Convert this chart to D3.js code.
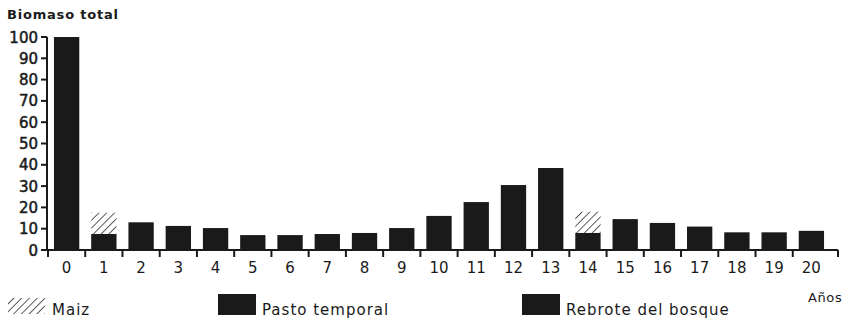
<!DOCTYPE html>
<html>
<head>
<meta charset="utf-8">
<script src="https://cdn.jsdelivr.net/npm/d3@7"></script>
<style>
  body { margin: 0; background: #fff; }
  text { font-family: "DejaVu Sans", sans-serif; fill: #1a1a1a; }
</style>
</head>
<body>
<script>
// years and values
const years = d3.range(0, 21);
const biomasa = [100, 7.5, 13, 11.3, 10.3, 7, 7, 7.5, 8, 10.3, 16, 22.5, 30.5, 38.5, 8, 14.5, 12.7, 11, 8.3, 8.3, 9];
const maiz = [0, 10, 0, 0, 0, 0, 0, 0, 0, 0, 0, 0, 0, 0, 10, 0, 0, 0, 0, 0, 0];
const yTicks = [0, 10, 20, 30, 40, 50, 60, 70, 80, 90, 100];
const legendItems = ["Maiz", "Pasto temporal", "Rebrote del bosque"];

function main(){
    const width = 849;
    const height = 320;
    const ink = "#1a1a1a";

    const svg = d3.select("body").append("svg")
        .attr("width", width)
        .attr("height", height);

    const defs = svg.append("defs");
    const pat = defs.append("pattern")
        .attr("id", "hatch")
        .attr("patternUnits", "userSpaceOnUse")
        .attr("width", 5.5)
        .attr("height", 5.5)
        .attr("patternTransform", "rotate(45)");
    pat.append("line")
        .attr("x1", 0).attr("y1", 0)
        .attr("x2", 0).attr("y2", 5.5)
        .attr("stroke", "#333")
        .attr("stroke-width", 1.6);

    const x = d3.scaleBand()
        .domain(years)
        .range([48, 830])
        .paddingInner(0.32)
        .paddingOuter(0.16);

    const y = d3.scaleLinear()
        .domain([0, 100])
        .range([250, 37]);

    // y axis
    svg.append("line")
        .attr("x1", 47).attr("x2", 47)
        .attr("y1", y(100)).attr("y2", y(0))
        .attr("stroke", ink).attr("stroke-width", 2);

    svg.append("g").selectAll("line")
        .data(yTicks)
        .enter()
        .append("line")
        .attr("x1", 41).attr("x2", 47)
        .attr("y1", d => y(d)).attr("y2", d => y(d))
        .attr("stroke", ink).attr("stroke-width", 2);

    svg.append("g").selectAll("text")
        .data(yTicks)
        .enter()
        .append("text")
        .attr("x", 38)
        .attr("y", d => y(d) + 5.5)
        .attr("text-anchor", "end")
        .attr("font-size", "15px")
        .attr("stroke", ink)
        .attr("stroke-width", 0.5)
        .text(d => d);

    svg.append("text")
        .attr("x", 7)
        .attr("y", 19)
        .attr("font-size", "13px")
        .attr("font-weight", "bold")
        .attr("letter-spacing", "0.8px")
        .text("Biomaso total");

    // bars
    svg.append("g").selectAll("rect")
        .data(years)
        .enter()
        .append("rect")
        .attr("x", d => x(d))
        .attr("width", x.bandwidth())
        .attr("y", d => y(biomasa[d]))
        .attr("height", d => y(0) - y(biomasa[d]))
        .attr("fill", ink);

    svg.append("g").selectAll("rect")
        .data(years.filter(d => maiz[d] > 0))
        .enter()
        .append("rect")
        .attr("x", d => x(d))
        .attr("width", x.bandwidth())
        .attr("y", d => y(biomasa[d] + maiz[d]))
        .attr("height", d => y(biomasa[d]) - y(biomasa[d] + maiz[d]))
        .attr("fill", "url(#hatch)");

    // x axis
    svg.append("line")
        .attr("x1", 47).attr("x2", 838)
        .attr("y1", y(0)).attr("y2", y(0))
        .attr("stroke", ink).attr("stroke-width", 2);

    const step = x.step();
    const bounds = years.map(d => x(d) - (step - x.bandwidth()) / 2).concat([838]);
    svg.append("g").selectAll("line")
        .data(bounds)
        .enter()
        .append("line")
        .attr("x1", d => d).attr("x2", d => d)
        .attr("y1", y(0)).attr("y2", y(0) + 7)
        .attr("stroke", ink).attr("stroke-width", 2);

    svg.append("g").selectAll("text")
        .data(years)
        .enter()
        .append("text")
        .attr("x", d => x(d) + x.bandwidth() / 2)
        .attr("y", 273)
        .attr("text-anchor", "middle")
        .attr("font-size", "15px")
        .text(d => d);

    svg.append("text")
        .attr("x", 808)
        .attr("y", 302)
        .attr("font-size", "13px")
        .attr("letter-spacing", "0.6px")
        .text("Años");

    // legend
    const legX = [8, 218, 522];
    const legend = svg.append("g").selectAll("g")
        .data(legendItems)
        .enter()
        .append("g")
        .attr("transform", (d, i) => "translate(" + legX[i] + ",0)");

    legend.append("rect")
        .attr("x", 0)
        .attr("y", (d, i) => i == 0 ? 298 : 294)
        .attr("width", (d, i) => i == 0 ? 37 : 38)
        .attr("height", (d, i) => i == 0 ? 16 : 21)
        .attr("fill", (d, i) => i == 0 ? "url(#hatch)" : ink);

    legend.append("text")
        .attr("x", 44)
        .attr("y", 315)
        .attr("font-size", "15px")
        .attr("letter-spacing", "1px")
        .text(d => d);
}

main();
</script>
</body>
</html>
